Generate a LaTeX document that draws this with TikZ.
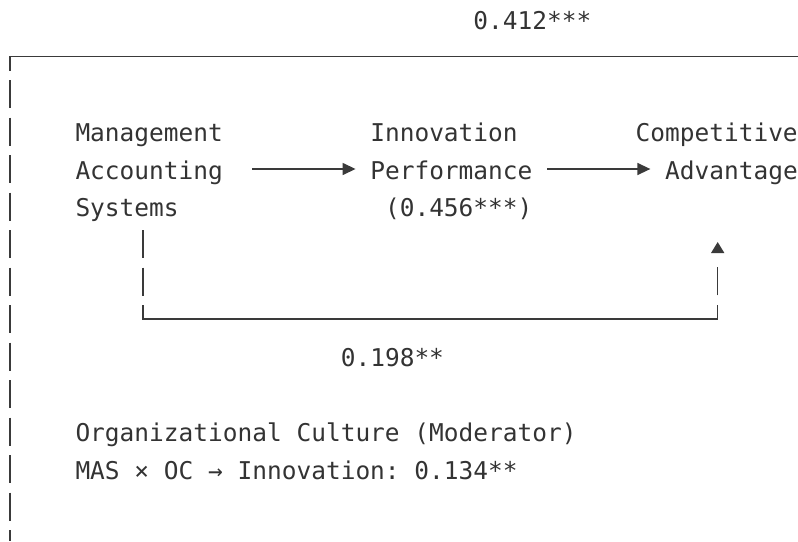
\documentclass[tikz,border=0pt]{standalone}
\usepackage{fontspec}
\usetikzlibrary{arrows.meta}
\newfontfamily\diagmono{DejaVu Sans Mono}
\definecolor{ink}{HTML}{333333}
\definecolor{rulec}{HTML}{3A3A3A}
\begin{document}
\begin{tikzpicture}[x=1pt,y=-1pt,
  txt/.style={inner sep=0pt, outer sep=0pt, anchor=west, text height=24pt, text depth=4pt,
    font=\diagmono\fontsize{24.48pt}{37.5pt}\selectfont\frenchspacing, text=ink},
  ln/.style={draw=rulec, line width=1.45pt},
  arr/.style={ln, -{Triangle[length=13pt,width=12pt]}}
]
\useasboundingbox (0,0) rectangle (798,541);

% outer frame (open box)
\coordinate (tr) at (798,56.5);
\coordinate (tl) at (10.17,56.5);
\coordinate (tlb) at (10.17,70.5);
\coordinate (lv1) at (10.17,80);
\coordinate (lv2) at (10.17,541);
\draw[ln] (tr) -- (tl) -- (tlb);
\draw[ln, dash pattern=on 28pt off 9.5pt] (lv1) -- (lv2);

% texts
\node[txt] (total) at (473.48,19) {0.412***};
\node[txt] (mgmt) at (75.5,131.5) {Management};
\node[txt] (acc) at (75.5,169) {Accounting};
\node[txt] (sys) at (75.5,206.5) {Systems};
\node[txt] (inn) at (370.3,131.5) {Innovation};
\node[txt] (perf) at (370.3,169) {Performance};
\node[txt] (ipc) at (385.04,206.5) {(0.456***)};
\node[txt] (comp) at (635.62,131.5) {Competitive};
\node[txt] (adv) at (665.1,169) {Advantage};
\node[txt] (direct) at (340.82,356.5) {0.198**};
\node[txt] (oc) at (75.5,431.5) {Organizational Culture (Moderator)};
\node[txt] (moder) at (75.5,469) {MAS × OC → Innovation: 0.134**};

% connectors
\draw[arr, shorten <=29.48pt, shorten >=14.74pt] (acc.east) -- (perf.west);
\draw[arr, shorten <=14.74pt, shorten >=14.74pt] (perf.east) -- (adv.west);

\coordinate (m1) at (142.83,230);
\coordinate (b2) at (717.69,319);
\coordinate (c1) at (717.69,242);
\draw[ln, -{Triangle[length=11pt,width=13pt]},
  dash pattern=on 28pt off 9.5pt on 28pt off 9.5pt on 603pt off 9.5pt on 28pt off 40pt]
  (m1) |- (b2) -- (c1);
\end{tikzpicture}
\end{document}
